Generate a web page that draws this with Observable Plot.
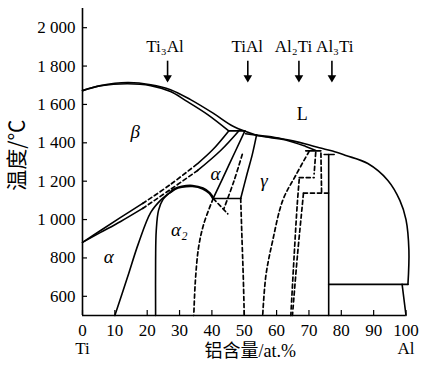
<!DOCTYPE html>
<html>
<head>
<meta charset="utf-8">
<script src="https://cdn.jsdelivr.net/npm/d3@7"></script>
<script src="https://cdn.jsdelivr.net/npm/@observablehq/plot@0.6"></script>
<style>
  html, body { margin: 0; padding: 0; background: #fff; }
</style>
</head>
<body>
<div id="chart"></div>
<script>
// ---- tick values ----
const xTicks = [0, 10, 20, 30, 40, 50, 60, 70, 80, 90, 100];
const yTicks = [600, 800, 1000, 1200, 1400, 1600, 1800, 2000];

// ---- solid phase boundaries [at.% Al, °C] ----
const liquidusBeta    = [[0,1672],[5.6,1698],[13.9,1714],[21.1,1703],[27.2,1677],[33.4,1625],[40.6,1552],[46.7,1485],[53.8,1440]];
const solidusBeta     = [[0,1672],[5.6,1697],[13.9,1708],[21.1,1698],[27.2,1667],[31.9,1620],[38.7,1547],[45.2,1462]];
const betaTransusLow  = [[0,881],[5.6,943],[11.8,1011],[18.6,1084]];
const betaTransusHigh = [[35.6,1292],[40.3,1365],[45.2,1462]];
const alphaTransusLow = [[0,881],[5.6,933],[11.8,990],[18.6,1058]];
const alphaTransusHigh= [[35.6,1256],[42.7,1360],[48.3,1462]];
const peritecticBeta  = [[45.2,1462],[50.2,1462]];
const peritecticAlpha = [[50.4,1447],[53.8,1440]];
const alphaGamma      = [[40.4,1110],[45.2,1282],[50.2,1462]];
const gammaAlpha      = [[48.9,1110],[50.9,1240],[52.5,1340],[53.8,1440]];
const eutectoid       = [[40.4,1110],[48.9,1110]];
const alpha2Left      = [[10.0,500],[13.9,699],[17.3,876],[21.1,1037],[24.1,1100],[27.2,1143]];
const alpha2Solvus    = [[22.6,500],[22.6,787],[22.8,943],[23.5,1048],[24.9,1105],[27.2,1143]];
const gammaLiquidus   = [[53.8,1440],[59.5,1428],[65,1410],[69.0,1394],[73.2,1374],[77.3,1357],[81.4,1334],[88.2,1292],[94.4,1204],[98.1,1100],[100,1000],[100.9,839],[100.6,662]];
const gammaSolidus    = [[53.8,1438],[56.7,1430],[62.8,1415],[69.0,1381],[72.1,1360]];
const al2tiTop        = [[69.0,1358],[73.7,1358]];
const al3tiTop        = [[74.7,1339],[77.8,1339]];
const al3tiLine       = [[76.1,1339],[76.1,500]];
const alEutectic      = [[76.1,662],[100.6,662]];
const alSide          = [[98.8,662],[100,500]];
// ordering dome (thick)
const alpha2Dome      = [[27.2,1143],[28.6,1160],[30.7,1171],[34.0,1175],[37.2,1162],[39.3,1138],[40.4,1110]];

// ---- dashed boundaries ----
const betaTransusDash = [[18.6,1084],[27.2,1183],[35.6,1292]];
const alphaTransusDash= [[18.6,1058],[27.2,1157],[35.6,1256]];
const alpha2Right     = [[40.4,1110],[37.5,978],[35.9,857],[34.9,683],[34.4,500]];
const eutectoidDiag   = [[40.4,1110],[44.9,1030]];
const orderLineE      = [[49.4,1340],[46.8,1200],[43.7,1056]];
const gammaLow        = [[48.9,1110],[49.3,900],[49.7,700],[50.0,500]];
const gammaRight      = [[70.1,1357],[65.9,1230],[61.9,1100],[58.8,891],[56.7,709],[55.7,500]];
const al2tiLeft       = [[67.0,1210],[66.4,1084],[65.4,805],[64.4,500]];
const al2tiRight      = [[68.3,1136],[68.0,1084],[66.4,805],[64.9,500]];
const lineK           = [[72.1,1350],[71.6,1238]];
const lineL           = [[73.7,1346],[73.9,1143]];
const dashUpper       = [[67.0,1219],[71.6,1219]];
const dashLower       = [[68.3,1138],[76.1,1138]];

// ---- annotations ----
const compounds     = ["Ti\u2083Al", "TiAl", "Al\u2082Ti", "Al\u2083Ti"];
const compoundTextX = [25.5, 50.9, 65.2, 78.0];
const compoundTextY = 1901;
const arrowX        = [26.3, 51.1, 66.9, 77.1];
const arrowTop      = 1828;
const arrowTip      = 1724;

const greekLabels = ["\u03b2", "\u03b1", "\u03b1", "\u03b3", "\u03b1\u2082"];
const greekX      = [16.3, 8.1, 41.1, 56.1, 29.9];
const greekY      = [1455, 804, 1238, 1203, 945];
const liquidLabel = ["L"];
const liquidX     = [67.9];
const liquidY     = [1551];
const yTitle      = "温度/℃";
const yTitleY     = 1150;
const xTitle      = "铝含量/at.%";

function table(curves) {
  return curves.flatMap((pts, id) => pts.map(([x, y]) => ({x, y, id})));
}
const solidCurves = [liquidusBeta, solidusBeta, betaTransusLow, betaTransusHigh, alphaTransusLow, alphaTransusHigh,
  peritecticBeta, peritecticAlpha, alphaGamma, gammaAlpha, eutectoid, alpha2Left, alpha2Solvus,
  gammaLiquidus, gammaSolidus, al2tiTop, al3tiTop, al3tiLine, alEutectic, alSide];
const dashedCurves = [betaTransusDash, alphaTransusDash, alpha2Right, eutectoidDiag, orderLineE, gammaLow,
  gammaRight, al2tiLeft, al2tiRight, lineK, lineL, dashUpper, dashLower];

const fmtY = d => d >= 1000 ? `${Math.floor(d / 1000)} ${String(d % 1000).padStart(3, "0")}` : `${d}`;
const fmtX = d => d === 0 ? "0\nTi" : d === 100 ? "100\nAl" : `${d}`;

const serif = "'Liberation Serif', 'Times New Roman', 'Noto Sans CJK SC', serif";

const chart = Plot.plot({
  width: 423,
  height: 372,
  marginLeft: 82,
  marginRight: 17.5,
  marginTop: 8,
  marginBottom: 57,
  style: {fontFamily: serif, fontSize: "17px", background: "#fff", color: "#000", overflow: "visible"},
  x: {domain: [0, 100]},
  y: {domain: [500, 2100]},
  marks: [
    Plot.axisX({ticks: xTicks, tickSize: -5, tickPadding: 12, tickFormat: fmtX, label: null, lineHeight: 1.1, strokeWidth: 1.2, fontFamily: serif, fontSize: 17, fontVariant: "normal"}),
    Plot.axisY({ticks: yTicks, tickSize: -5, tickPadding: 12, tickFormat: fmtY, label: null, strokeWidth: 1.2, fontFamily: serif, fontSize: 17, fontVariant: "normal"}),
    Plot.ruleX([0], {stroke: "#000", strokeWidth: 1.6}),
    Plot.ruleY([500], {stroke: "#000", strokeWidth: 1.6}),
    Plot.line(table(solidCurves), {x: "x", y: "y", z: "id", curve: "catmull-rom", stroke: "#000", strokeWidth: 1.6}),
    Plot.line(table([alpha2Dome]), {x: "x", y: "y", z: "id", curve: "catmull-rom", stroke: "#000", strokeWidth: 2.6}),
    Plot.line(table(dashedCurves), {x: "x", y: "y", z: "id", curve: "catmull-rom", stroke: "#000", strokeWidth: 1.7, strokeDasharray: "4,3"}),
    Plot.link(arrowX, {x1: d => d, x2: d => d, y1: arrowTop, y2: arrowTip, stroke: "#000", strokeWidth: 1.6}),
    Plot.dot(arrowX, {x: d => d, y: arrowTip, symbol: "triangle", rotate: 180, r: 3.2, fill: "#000", stroke: "none", dy: -3}),
    Plot.text(compounds, {x: (d, i) => compoundTextX[i], y: compoundTextY, text: d => d, fontSize: 17, fill: "#000", fontFamily: serif}),
    Plot.text(greekLabels, {x: (d, i) => greekX[i], y: (d, i) => greekY[i], text: d => d, fontSize: 19, fontStyle: "italic", fill: "#000", fontFamily: serif}),
    Plot.text(liquidLabel, {x: (d, i) => liquidX[i], y: (d, i) => liquidY[i], text: d => d, fontSize: 18, fill: "#000", fontFamily: serif}),
    Plot.text([yTitle], {frameAnchor: "left", y: () => yTitleY, dx: -65, rotate: -90, fontSize: 21, fill: "#000", fontFamily: "'Noto Sans CJK SC', serif"}),
    Plot.text([xTitle], {frameAnchor: "bottom", dx: 6, dy: 41, fontSize: 18, fill: "#000", fontFamily: serif})
  ]
});
document.getElementById("chart").appendChild(chart);
</script>
</body>
</html>
